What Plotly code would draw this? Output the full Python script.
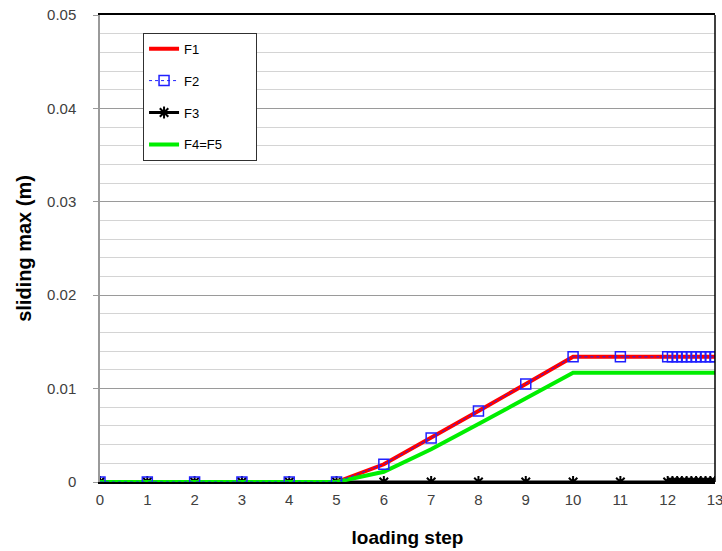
import plotly.graph_objects as go

# loading steps: 0..11 in whole steps, then 12.0..13.0 in tenths
steps = [0, 1, 2, 3, 4, 5, 6, 7, 8, 9, 10, 11,
         12.0, 12.1, 12.2, 12.3, 12.4, 12.5, 12.6, 12.7, 12.8, 12.9, 13.0]

f1 = [0, 0, 0, 0, 0, 0, 0.0019, 0.0047, 0.0076, 0.0105, 0.0134, 0.0134,
      0.0134, 0.0134, 0.0134, 0.0134, 0.0134, 0.0134, 0.0134, 0.0134, 0.0134, 0.0134, 0.0134]
f2 = list(f1)
f3 = [0.0] * len(steps)
f45 = [0, 0, 0, 0, 0, 0, 0.0011, 0.0035, 0.0062, 0.0089, 0.0117, 0.0117,
       0.0117, 0.0117, 0.0117, 0.0117, 0.0117, 0.0117, 0.0117, 0.0117, 0.0117, 0.0117, 0.0117]

x_ticks = list(range(0, 14))
y_ticks = [0, 0.01, 0.02, 0.03, 0.04, 0.05]
y_tick_text = ["0", "0.01", "0.02", "0.03", "0.04", "0.05"]

FONT = "Liberation Sans"
PAD = "&nbsp;" * 8  # widens the legend box to the right

fig = go.Figure()
fig.add_trace(go.Scatter(x=steps, y=f3, name="F3" + PAD, mode="lines+markers",
                         line=dict(color="black", width=3),
                         marker=dict(symbol="asterisk-open", size=10,
                                     line=dict(color="black", width=2)),
                         legendgroup="g3", legendrank=3))
fig.add_trace(go.Scatter(x=steps, y=f1, name="F1" + PAD, mode="lines",
                         line=dict(color="#ff0000", width=4),
                         legendgroup="g1", legendrank=1))
fig.add_trace(go.Scatter(x=steps, y=f45, name="F4=F5" + PAD, mode="lines",
                         line=dict(color="#00ee00", width=4),
                         legendgroup="g4", legendrank=4))
fig.add_trace(go.Scatter(x=steps, y=f2, name="F2" + PAD, mode="lines+markers",
                         line=dict(color="#2020ff", width=1, dash="dot"),
                         marker=dict(symbol="square-open", size=10,
                                     line=dict(color="#2020ff", width=1.5)),
                         legendgroup="g2", legendrank=2))

fig.update_layout(
    width=722, height=551,
    margin=dict(l=100, r=7, t=15, b=69),
    paper_bgcolor="white", plot_bgcolor="white",
    font=dict(family=FONT, size=15, color="#404040"),
    showlegend=True,
    legend=dict(x=0.07, y=0.962, xanchor="left", yanchor="top",
                bgcolor="white", bordercolor="#303030", borderwidth=1,
                font=dict(family=FONT, size=13, color="black"),
                tracegroupgap=12, traceorder="grouped"),
    xaxis=dict(range=[0, 13], tickvals=x_ticks, showgrid=False, zeroline=False,
               showline=True, linecolor="black", linewidth=1.5, mirror=True,
               ticks="", ticklen=0, ticklabelstandoff=3,
               ticklabeloverflow="allow", automargin=False,
               tickfont=dict(family=FONT, size=15, color="#404040"),
               title=dict(text="<b>loading step</b>", standoff=24,
                          font=dict(family=FONT, size=19, color="black"))),
    yaxis=dict(range=[0, 0.05], tickvals=y_ticks, ticktext=y_tick_text,
               showgrid=True, gridcolor="#9a9a9a", gridwidth=1,
               zeroline=False, showline=True, linecolor="#9a9a9a", linewidth=1.5,
               ticks="outside", ticklen=5, tickcolor="#9a9a9a",
               ticklabelstandoff=14, automargin=False,
               minor=dict(dtick=0.002, showgrid=True, gridcolor="#d4d4d4", gridwidth=1),
               tickfont=dict(family=FONT, size=15, color="#404040"),
               title=dict(text="<b>sliding max (m)</b>", standoff=10,
                          font=dict(family=FONT, size=20, color="black"))),
)

# right-hand frame edge
fig.add_shape(type="line", xref="paper", yref="paper", x0=1, x1=1, y0=0, y1=1,
              line=dict(color="black", width=1.5))

fig.write_html("out.html")
